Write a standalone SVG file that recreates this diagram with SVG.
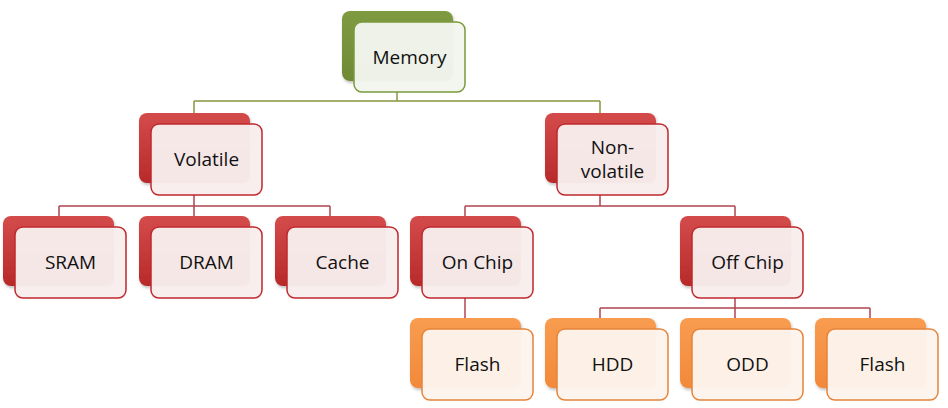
<svg xmlns="http://www.w3.org/2000/svg" width="948" height="408" viewBox="0 0 948 408">
<defs>
<linearGradient id="gGreen" x1="0" y1="0" x2="0" y2="1"><stop offset="0" stop-color="#7F9B42"/><stop offset="1" stop-color="#6E8A35"/></linearGradient>
<linearGradient id="gRed" x1="0" y1="0" x2="0" y2="1"><stop offset="0" stop-color="#D44B4B"/><stop offset="1" stop-color="#B82A2A"/></linearGradient>
<linearGradient id="gOrange" x1="0" y1="0" x2="0" y2="1"><stop offset="0" stop-color="#F89C50"/><stop offset="1" stop-color="#F2893A"/></linearGradient>
<filter id="sh" x="-10%" y="-10%" width="125%" height="130%"><feDropShadow dx="1" dy="2" stdDeviation="1.5" flood-color="#000" flood-opacity="0.25"/></filter>
</defs>
<style>
.back{filter:url(#sh)}
.bg{fill:url(#gGreen)}
.br{fill:url(#gRed)}
.bo{fill:url(#gOrange)}
.fg{fill:#F3F5EE;fill-opacity:0.97;stroke:#7A9A3C;stroke-width:1.5}
.fr{fill:#F8EDED;fill-opacity:0.97;stroke:#C0282D;stroke-width:1.5}
.fo{fill:#FDF4EC;fill-opacity:0.97;stroke:#E5843A;stroke-width:1.5}
.t{font-family:"Open Sans","Liberation Sans",sans-serif;font-size:19px;fill:#111;text-anchor:middle}
.cg{stroke:#86983F;stroke-width:1.5;fill:none}
.cr{stroke:#B04450;stroke-width:1.5;fill:none}
</style>
<g id="connectors">
<path class="cg" d="M397 92V101M194 101H600M194 101V113M600 101V113"/>
<path class="cr" d="M194 195V206M59 206H330M59 206V216M194 206V216M330 206V216"/>
<path class="cr" d="M600 195V206M465 206H735M465 206V216M735 206V216"/>
<path class="cr" d="M465 298V318"/>
<path class="cr" d="M735 298V308M600 308H870M600 308V318M735 308V318M870 308V318"/>
</g>
<g id="memory"><rect class="back bg" x="342" y="11" width="111" height="70" rx="8"/><rect class="fg" x="354" y="22" width="111" height="70" rx="8"/><text class="t" x="409.5" y="64">Memory</text></g>
<g id="volatile"><rect class="back br" x="139" y="113" width="111" height="70" rx="8"/><rect class="fr" x="151" y="124" width="111" height="71" rx="8"/><text class="t" x="206.5" y="166">Volatile</text></g>
<g id="nonvolatile"><rect class="back br" x="545" y="113" width="111" height="70" rx="8"/><rect class="fr" x="557" y="124" width="111" height="71" rx="8"/><text class="t" x="612.5" y="154">Non-</text><text class="t" x="612.5" y="178">volatile</text></g>
<g id="sram"><rect class="back br" x="3" y="216" width="111" height="70" rx="8"/><rect class="fr" x="15" y="227" width="111" height="71" rx="8"/><text class="t" x="70.5" y="269">SRAM</text></g>
<g id="dram"><rect class="back br" x="139" y="216" width="111" height="70" rx="8"/><rect class="fr" x="151" y="227" width="111" height="71" rx="8"/><text class="t" x="206.5" y="269">DRAM</text></g>
<g id="cache"><rect class="back br" x="275" y="216" width="111" height="70" rx="8"/><rect class="fr" x="287" y="227" width="111" height="71" rx="8"/><text class="t" x="342.5" y="269">Cache</text></g>
<g id="onchip"><rect class="back br" x="410" y="216" width="111" height="70" rx="8"/><rect class="fr" x="422" y="227" width="111" height="71" rx="8"/><text class="t" x="477.5" y="269">On Chip</text></g>
<g id="offchip"><rect class="back br" x="680" y="216" width="111" height="70" rx="8"/><rect class="fr" x="692" y="227" width="111" height="71" rx="8"/><text class="t" x="747.5" y="269">Off Chip</text></g>
<g id="flash1"><rect class="back bo" x="410" y="318" width="111" height="70" rx="8"/><rect class="fo" x="422" y="329" width="111" height="71" rx="8"/><text class="t" x="477.5" y="371">Flash</text></g>
<g id="hdd"><rect class="back bo" x="545" y="318" width="111" height="70" rx="8"/><rect class="fo" x="557" y="329" width="111" height="71" rx="8"/><text class="t" x="612.5" y="371">HDD</text></g>
<g id="odd"><rect class="back bo" x="680" y="318" width="111" height="70" rx="8"/><rect class="fo" x="692" y="329" width="111" height="71" rx="8"/><text class="t" x="747.5" y="371">ODD</text></g>
<g id="flash2"><rect class="back bo" x="815" y="318" width="111" height="70" rx="8"/><rect class="fo" x="827" y="329" width="111" height="71" rx="8"/><text class="t" x="882.5" y="371">Flash</text></g>
</svg>
